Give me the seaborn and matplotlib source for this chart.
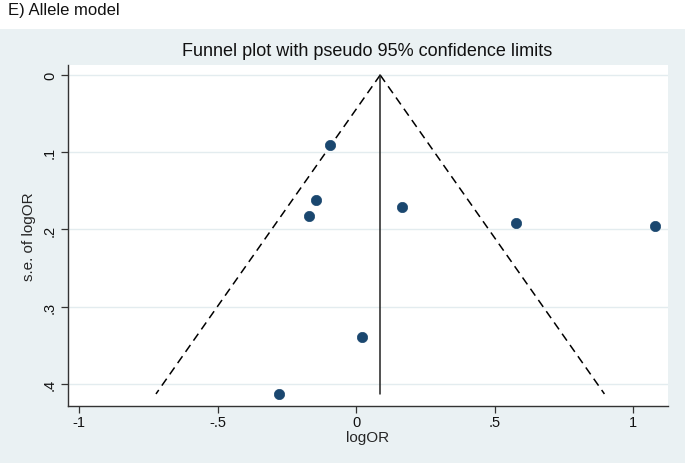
import matplotlib
matplotlib.use("Agg")
import matplotlib.pyplot as plt
import seaborn as sns
import numpy as np
import pandas as pd
from matplotlib.patches import Rectangle

# Data
log_or = [-0.094, -0.144, -0.170, 0.166, 0.578, 1.079, 0.022, -0.278]
se_log_or = [0.090, 0.162, 0.183, 0.171, 0.191, 0.196, 0.339, 0.413]
pooled = 0.087
x_ticks = [-1, -0.5, 0, 0.5, 1]
x_tick_labels = ["-1", "-.5", "0", ".5", "1"]
y_ticks = [0, 0.1, 0.2, 0.3, 0.4]
y_tick_labels = ["0", ".1", ".2", ".3", ".4"]

sns.set_theme(style="white")
plt.rcParams["font.family"] = ["Liberation Sans", "DejaVu Sans"]

fig = plt.figure(figsize=(6.85, 4.64), dpi=100)
fig.patch.set_facecolor("white")
bg = Rectangle((0, 0), 1, 1 - 30 / 464, transform=fig.transFigure,
               facecolor="#eaf1f3", edgecolor="none", zorder=-10)
fig.patches.append(bg)

ax = fig.add_axes([68 / 685, 1 - 407 / 464, 600 / 685, (407 - 66) / 464])
ax.set_facecolor("white")

df = pd.DataFrame({"logOR": log_or, "se": se_log_or})
se_max = max(se_log_or)

# funnel lines
se_line = np.array([0.0, se_max])
line_df = pd.DataFrame({
    "se": np.concatenate([se_line, se_line]),
    "x": np.concatenate([pooled - 1.96 * se_line, pooled + 1.96 * se_line]),
    "side": ["lo", "lo", "hi", "hi"],
})
for side in ["lo", "hi"]:
    d = line_df[line_df.side == side]
    sns.lineplot(data=d, x="x", y="se", ax=ax, color="black", lw=1.1,
                 linestyle=(0, (5.5, 3.5)), sort=False, estimator=None)
vdf = pd.DataFrame({"x": [pooled, pooled], "se": [0, se_max]})
sns.lineplot(data=vdf, x="x", y="se", ax=ax, color="#222222", lw=1.1,
             sort=False, estimator=None)

sns.scatterplot(data=df, x="logOR", y="se", ax=ax, color="#1a476f",
                s=55, edgecolor="#1a476f", linewidth=0.5, zorder=5)

ax.set_xlim(-1.04, 1.126)
ax.set_ylim(0.4286, -0.013)
ax.set_xticks(x_ticks)
ax.set_xticklabels(x_tick_labels, fontsize=10.5)
ax.set_yticks(y_ticks)
ax.set_yticklabels(y_tick_labels, fontsize=10.5, rotation=90, va="center")
for y in y_ticks:
    ax.axhline(y, color="#e3ecef", lw=1, zorder=0)

for s in ["top", "right"]:
    ax.spines[s].set_visible(False)
for s in ["left", "bottom"]:
    ax.spines[s].set_color("#333333")
    ax.spines[s].set_linewidth(1)
ax.tick_params(axis="both", direction="out", length=5, width=0.9,
               color="#333333", labelcolor="#111111", bottom=True, left=True)
ax.tick_params(axis="x", pad=1.5)
ax.tick_params(axis="y", pad=3)

ax.set_xlabel("logOR", fontsize=11, labelpad=1)
ax.set_ylabel("s.e. of logOR", fontsize=11, labelpad=5)

fig.text(367 / 685, 1 - 52 / 464, "Funnel plot with pseudo 95% confidence limits",
         ha="center", va="center", fontsize=13, color="#111111")
fig.text(8 / 685, 1 - 11 / 464, "E) Allele model", ha="left", va="center",
         fontsize=12, color="#111111")

fig.savefig("out.png", dpi=100)
